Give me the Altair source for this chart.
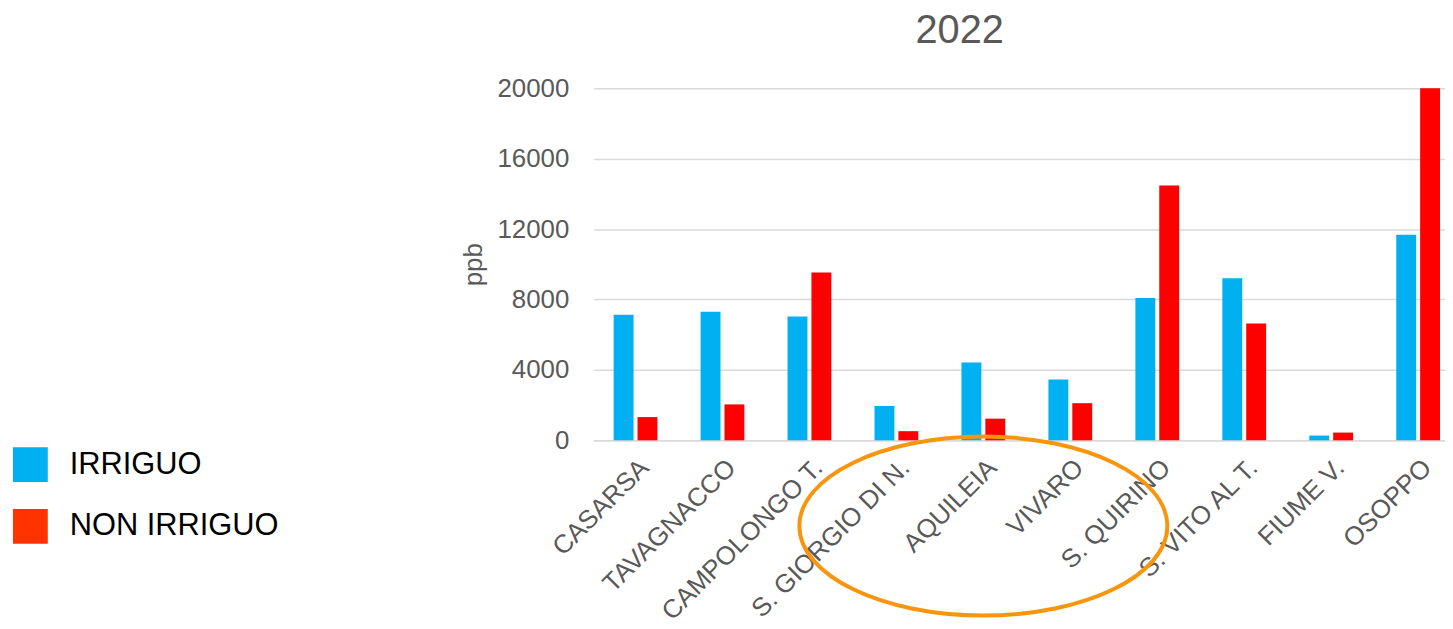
import altair as alt
import pandas as pd

stations = ["CASARSA", "TAVAGNACCO", "CAMPOLONGO T.", "S. GIORGIO DI N.", "AQUILEIA",
            "VIVARO", "S. QUIRINO", "S. VITO AL T.", "FIUME V.", "OSOPPO"]
irriguo = [7130, 7300, 7040, 1950, 4420, 3460, 8090, 9210, 270, 11680]
non_irriguo = [1320, 2040, 9530, 520, 1230, 2110, 14470, 6640, 440, 20000]
series = ["IRRIGUO", "NON IRRIGUO"]
y_ticks = [0, 4000, 8000, 12000, 16000, 20000]

# annotation ellipse (centre given in data units)
ellipse_station = ["AQUILEIA"]
ellipse_level = [-4870]

rows = []
for s, a, b in zip(stations, irriguo, non_irriguo):
    rows.append({"station": s, "serie": series[0], "ppb": a})
    rows.append({"station": s, "serie": series[1], "ppb": b})
df = pd.DataFrame(rows)
ell = pd.DataFrame({"station": ellipse_station, "ppb": ellipse_level})

FONT = "Liberation Sans"
GRAY = "#595959"

x_scale = alt.Scale(paddingInner=0.4966, paddingOuter=0.2288, range=[0, 871])

x = alt.X("station:N", sort=stations, scale=x_scale,
          axis=alt.Axis(title=None, labelAngle=-45, labelAlign="right", labelBaseline="top",
                        labelFontSize=26, labelColor=GRAY, labelFont=FONT, labelPadding=14,
                        ticks=False, domain=True, domainColor="#d9d9d9", domainWidth=1.5,
                        grid=False, labelLimit=400))
y = alt.Y("ppb:Q", scale=alt.Scale(domain=[0, 20000], nice=False),
          axis=alt.Axis(values=y_ticks, title="ppb", titleFontSize=26, titleColor=GRAY,
                        titleFont=FONT, titleFontWeight="normal", titleX=-121, titleY=177,
                        titleAngle=-90, titleAlign="center", titleBaseline="middle",
                        labelFontSize=26, labelColor=GRAY, labelFont=FONT, labelPadding=25,
                        ticks=False, domain=False, grid=True, gridColor="#d9d9d9",
                        gridWidth=1.5, format="d"))

bars = alt.Chart(df).mark_bar().encode(
    x=x, y=y,
    xOffset=alt.XOffset("serie:N", sort=series,
                        scale=alt.Scale(paddingInner=0.167, paddingOuter=0)),
    color=alt.Color("serie:N", sort=series,
                    scale=alt.Scale(domain=series, range=["#00B0F0", "#FF0000"]),
                    legend=None),
)

legend_layer = alt.Chart(df).mark_square(opacity=0).encode(
    x=alt.X("station:N", sort=stations),
    y=alt.Y("ppb:Q"),
    color=alt.Color("serie:N", sort=series,
                    scale=alt.Scale(domain=series, range=["#00B0F0", "#FF3300"]),
                    legend=alt.Legend(title=None, orient="none", legendX=-584, legendY=361,
                                      symbolType="square", symbolSize=1225,
                                      symbolOpacity=1, symbolStrokeWidth=0,
                                      labelFontSize=31, labelColor="black", labelFont=FONT,
                                      labelOffset=22, rowPadding=27, labelLimit=400)),
)

ellipse = alt.Chart(ell).mark_point(
    shape="M -1 0 A 1 0.4865 0 1 0 1 0 A 1 0.4865 0 1 0 -1 0 Z",
    size=136900, filled=False, strokeWidth=4, color="#F7960E", opacity=1,
).encode(x=alt.X("station:N", sort=stations), y=alt.Y("ppb:Q"))

chart = alt.layer(bars, legend_layer, ellipse).resolve_scale(
    color="independent"
).properties(
    width=856, height=354,
    title=alt.TitleParams("2022", fontSize=40, color=GRAY, font=FONT, fontWeight="normal",
                          anchor="middle", baseline="alphabetic", offset=0, dx=-60, dy=7),
    padding={"left": 589, "top": 79, "right": 0, "bottom": 186},
    autosize=alt.AutoSizeParams(type="none"),
).configure_view(stroke=None)

chart.save("out.html", embed_options={"renderer": "svg", "actions": False})
